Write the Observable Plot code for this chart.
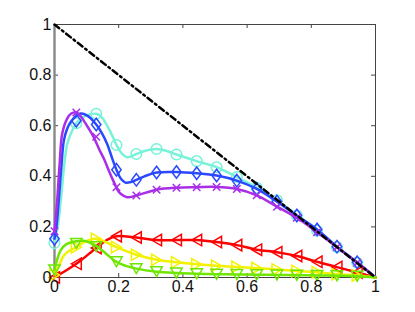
<!DOCTYPE html>
<html><head><meta charset="utf-8">
<script src="https://cdn.jsdelivr.net/npm/d3@7"></script>
<script src="https://cdn.jsdelivr.net/npm/@observablehq/plot@0.6"></script>
<style>body{margin:0;background:#fff;} svg{background:#fff;}</style>
</head><body><div id="chart"></div>
<script>
// ---- data ----
const xTicks = [0, 0.2, 0.4, 0.6, 0.8, 1];
const xTickLabels = ["0", "0.2", "0.4", "0.6", "0.8", "1"];
const yTicks = [0, 0.2, 0.4, 0.6, 0.8, 1];
const yTickLabels = ["0", "0.2", "0.4", "0.6", "0.8", "1"];

const diagX = [0, 1];
const diagY = [1, 0];

const markerX = [0, 0.068, 0.13, 0.193, 0.255, 0.318, 0.38, 0.443, 0.505, 0.568, 0.63, 0.693, 0.755, 0.818, 0.88, 0.943];

const cyanMarks   = [0.136, 0.61, 0.647, 0.524, 0.488, 0.508, 0.486, 0.46, 0.436, 0.397, 0.355, 0.305, 0.245, 0.185, 0.12, 0.058];
const blueMarks   = [0.153, 0.62, 0.605, 0.426, 0.386, 0.415, 0.417, 0.412, 0.403, 0.383, 0.35, 0.3, 0.245, 0.19, 0.122, 0.06];
const purpleMarks = [0.183, 0.652, 0.556, 0.357, 0.324, 0.347, 0.355, 0.357, 0.358, 0.35, 0.325, 0.28, 0.236, 0.179, 0.12, 0.058];
const redMarks    = [0, 0.054, 0.117, 0.163, 0.158, 0.148, 0.148, 0.148, 0.14, 0.128, 0.11, 0.1, 0.085, 0.062, 0.041, 0.02];
const yellowMarks = [0.01, 0.12, 0.153, 0.12, 0.09, 0.07, 0.06, 0.052, 0.046, 0.042, 0.037, 0.032, 0.026, 0.021, 0.013, 0.008];
const greenMarks  = [0.03, 0.135, 0.122, 0.062, 0.035, 0.023, 0.018, 0.015, 0.013, 0.012, 0.011, 0.01, 0.009, 0.008, 0.007, 0.005];

const cyanLine = [[0,0.136],[0.01,0.2],[0.02,0.31],[0.03,0.44],[0.04,0.53],[0.06,0.594],[0.068,0.61],[0.085,0.63],[0.102,0.642],[0.13,0.647],[0.148,0.632],[0.164,0.6],[0.18,0.56],[0.193,0.524],[0.21,0.49],[0.226,0.475],[0.255,0.488],[0.28,0.5],[0.318,0.508],[0.35,0.5],[0.38,0.486],[0.443,0.46],[0.505,0.436],[0.568,0.397],[0.63,0.355],[0.693,0.305],[0.755,0.245],[0.818,0.185],[0.88,0.12],[0.943,0.058],[1,0]];
const blueLine = [[0,0.153],[0.006,0.2],[0.013,0.3],[0.021,0.43],[0.029,0.54],[0.04,0.59],[0.05,0.614],[0.068,0.638],[0.081,0.648],[0.102,0.64],[0.13,0.605],[0.148,0.57],[0.164,0.528],[0.18,0.47],[0.193,0.426],[0.207,0.39],[0.221,0.375],[0.24,0.378],[0.255,0.386],[0.28,0.4],[0.318,0.415],[0.38,0.417],[0.443,0.412],[0.505,0.403],[0.568,0.383],[0.63,0.35],[0.693,0.3],[0.755,0.245],[0.818,0.19],[0.88,0.122],[0.943,0.06],[1,0]];
const purpleLine = [[0,0.183],[0.004,0.24],[0.0084,0.304],[0.016,0.45],[0.024,0.568],[0.039,0.627],[0.052,0.648],[0.068,0.653],[0.08,0.64],[0.091,0.62],[0.106,0.59],[0.122,0.555],[0.138,0.51],[0.154,0.469],[0.17,0.42],[0.185,0.377],[0.197,0.345],[0.206,0.331],[0.226,0.317],[0.255,0.324],[0.318,0.347],[0.38,0.355],[0.443,0.357],[0.505,0.358],[0.568,0.35],[0.63,0.325],[0.693,0.28],[0.755,0.236],[0.818,0.179],[0.88,0.12],[0.943,0.058],[1,0]];
const redLine = [[0,0],[0.068,0.054],[0.13,0.117],[0.165,0.15],[0.193,0.163],[0.255,0.158],[0.318,0.148],[0.38,0.148],[0.443,0.148],[0.505,0.14],[0.568,0.128],[0.63,0.11],[0.693,0.1],[0.755,0.085],[0.818,0.062],[0.88,0.041],[0.943,0.02],[1,0]];
const yellowLine = [[0,0.01],[0.015,0.05],[0.029,0.087],[0.045,0.105],[0.068,0.12],[0.1,0.145],[0.13,0.153],[0.16,0.14],[0.193,0.12],[0.255,0.09],[0.318,0.07],[0.38,0.06],[0.443,0.052],[0.505,0.046],[0.568,0.042],[0.63,0.037],[0.693,0.032],[0.755,0.026],[0.818,0.021],[0.88,0.013],[0.943,0.008],[1,0]];
const greenLine = [[0,0.03],[0.008,0.07],[0.019,0.107],[0.035,0.13],[0.068,0.143],[0.09,0.145],[0.11,0.138],[0.13,0.125],[0.16,0.095],[0.193,0.062],[0.225,0.045],[0.255,0.035],[0.318,0.023],[0.38,0.018],[0.443,0.015],[0.505,0.013],[0.568,0.012],[0.63,0.011],[0.693,0.01],[0.755,0.009],[0.818,0.008],[0.88,0.007],[0.943,0.005],[1,0]];

// ---- custom marker shapes (MATLAB style) ----
function poly(pts) {
  return {draw(ctx, size) {
    const r = Math.sqrt(size / Math.PI);
    ctx.moveTo(pts[0][0] * r, pts[0][1] * r);
    for (let i = 1; i < pts.length; i++) ctx.lineTo(pts[i][0] * r, pts[i][1] * r);
    ctx.closePath();
  }};
}
const symDiamond = poly([[0,-1.2],[0.9,0],[0,1.2],[-0.9,0]]);
const symLeft = poly([[-0.95,0],[0.95,-1.1],[0.95,1.1]]);
const symRight = poly([[0.95,0],[-0.95,-1.1],[-0.95,1.1]]);
const symDown = poly([[-1.1,-0.95],[1.1,-0.95],[0,0.95]]);
const symX = {draw(ctx, size) {
  const r = Math.sqrt(size / Math.PI) * 0.75;
  ctx.moveTo(-r,-r); ctx.lineTo(r,r); ctx.moveTo(-r,r); ctx.lineTo(r,-r);
}};

const series = [
  {line: cyanLine, marks: cyanMarks, color: "#78f2d8", symbol: "circle", r: 5.3},
  {line: blueLine, marks: blueMarks, color: "#2a48ff", symbol: symDiamond, r: 5.2},
  {line: purpleLine, marks: purpleMarks, color: "#a92ee8", symbol: symX, r: 5},
  {line: redLine, marks: redMarks, color: "#ff0000", symbol: symLeft, r: 5.2},
  {line: yellowLine, marks: yellowMarks, color: "#f2f200", symbol: symRight, r: 5.2},
  {line: greenLine, marks: greenMarks, color: "#6ee600", symbol: symDown, r: 5.2}
];

const marks = [];
for (const s of series) {
  marks.push(Plot.line(s.line, {x: d => d[0], y: d => d[1], stroke: s.color, strokeWidth: 2.5, curve: "catmull-rom"}));
  marks.push(Plot.dot(s.marks.map((v, i) => ({x: markerX[i], y: v})), {x: "x", y: "y", symbol: s.symbol, r: s.r, stroke: s.color, fill: "none", strokeWidth: 1.5}));
}
const diag = diagX.map((x, i) => ({x, y: diagY[i]}));
marks.push(Plot.line(diag, {x: "x", y: "y", stroke: "#000", strokeWidth: 2.5, strokeDasharray: "6,3.5,1.8,3.5"}));

const chart = Plot.plot({
  width: 415, height: 312,
  marginLeft: 54, marginRight: 40, marginTop: 24, marginBottom: 35,
  style: {fontFamily: "'Liberation Sans', Arial, sans-serif", fontSize: "16px", background: "#fff", color: "#000"},
  x: {domain: [0, 1]},
  y: {domain: [0, 1]},
  marks: [
    // inward ticks on all four sides
    Plot.ruleX(xTicks, {stroke: "#444", strokeWidth: 1, insetTop: 249}),
    Plot.ruleX(xTicks, {stroke: "#444", strokeWidth: 1, insetBottom: 249}),
    Plot.ruleY(yTicks, {stroke: "#444", strokeWidth: 1, insetRight: 317}),
    Plot.ruleY(yTicks, {stroke: "#444", strokeWidth: 1, insetLeft: 317}),
    Plot.frame({stroke: "#444", strokeWidth: 1}),
    Plot.ruleX([0], {stroke: "#888", strokeWidth: 2.4}),
    ...marks,
    Plot.axisX(xTicks, {tickSize: 0, tickPadding: 3, tickFormat: (d, i) => xTickLabels[i], label: null, fill: "#111"}),
    Plot.axisY(yTicks, {tickSize: 0, tickPadding: 3, tickFormat: (d, i) => yTickLabels[i], label: null, fill: "#111"})
  ]
});
document.getElementById("chart").appendChild(chart);
</script>
</body></html>
